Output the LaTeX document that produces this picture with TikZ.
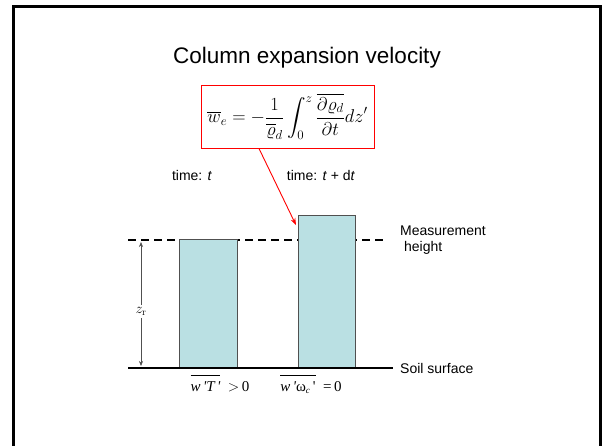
\RequirePackage{fix-cm}
\documentclass[tikz,border=0pt]{standalone}
\usepackage{amsmath,amssymb}
\usepackage{fontspec}
\newfontfamily\arialf{Liberation Sans}
\newfontfamily\timesf{Liberation Serif}
\usetikzlibrary{arrows.meta,positioning,calc}
\definecolor{colFill}{HTML}{BAE0E3}
\definecolor{colEdge}{HTML}{505050}
\definecolor{eqRed}{HTML}{FF0000}

\begin{document}
\begin{tikzpicture}[x=1pt, y=-1pt,
      column/.style={
        rectangle, fill=colFill, draw=colEdge, line width=0.9pt,
        inner sep=0pt, minimum width=58pt, anchor=south west
      },
      lbl/.style={font=\arialf\fontsize{14}{16}\selectfont, inner sep=0pt},
      fluxlbl/.style={font=\timesf\fontsize{15}{17}\selectfont, inner sep=0pt},
      callout/.style={-{Stealth[length=7pt,width=5pt]}, draw=eqRed, line width=0.9pt}
    ]
      \useasboundingbox (0,0) rectangle (602,445);
      \begin{scope}
        \clip (0,0) rectangle (602,445);
        \draw[line width=2.6pt] (13.5,6.5) rectangle (600.5,470);
      \end{scope}

      % title and formula
      \node[font=\arialf\fontsize{22.5}{26}\selectfont, anchor=base] (title) at (307,63) {Column expansion velocity};
      \node[draw=eqRed, line width=1pt, minimum width=173pt, minimum height=63pt, inner sep=0pt,
            font=\fontsize{18.5}{22}\selectfont] (eq) at (287.5,116.5)
        {$\displaystyle \overline{w}_e=-\frac{1}{\overline{\varrho}_d}\int_0^z\frac{\overline{\partial\varrho_d}}{\partial t}dz'$};

      \node[lbl] (tA) at (192,175) {time: \textit{t}};
      \node[lbl] (tB) at (321,175) {time: \textit{t} + d\textit{t}};

      % reference levels
      \coordinate (mL) at (128,240);
      \coordinate (mR) at (385,240);
      \coordinate (sL) at (128,368);
      \coordinate (sR) at (393,368);
      \draw[line width=1.5pt, dash pattern=on 8pt off 5pt] (mL) -- (mR);

      % columns
      \node[column, minimum height=128pt] (colA) at (179,368) {};
      \node[column, minimum height=152pt, minimum width=57pt] (colB) at (298,368) {};
      \draw[line width=1.8pt] (sL) -- (sR);

      \node[lbl, anchor=west, align=left] (meas) at (400,240) {Measurement\\\ height};
      \node[lbl, anchor=west] (soil) at (400,368) {Soil surface};

      % height of the measurement
      \draw[{Stealth[length=5pt,width=4pt]}-{Stealth[length=5pt,width=4pt]}, draw=colEdge, line width=0.6pt]
        (141,242) -- node[fill=white, inner sep=2pt, pos=0.56, font=\fontsize{14.4}{17}\selectfont] (zr) {$z_{\mathrm{r}}$} (141,366);

      \draw[callout] ($(eq.south)+(-28.5,0)$) -- ($(colB.north west)+(-2,10)$);

      % fluxes
      \node[fluxlbl, anchor=base] (fA) at (220,391) {$\overline{\hbox{\rule{0pt}{14pt}\itshape w\,'T\,'}}$\ \ ${>}\,$0};
      \node[fluxlbl, anchor=base] (fB) at (311,391) {$\overline{\hbox{\rule{0pt}{14pt}\itshape w\,'\upshape ω$_{\hbox{\fontsize{9}{10}\selectfont\itshape c}}$\,'}}$\ \ =\,0};
    \end{tikzpicture}
\end{document}
